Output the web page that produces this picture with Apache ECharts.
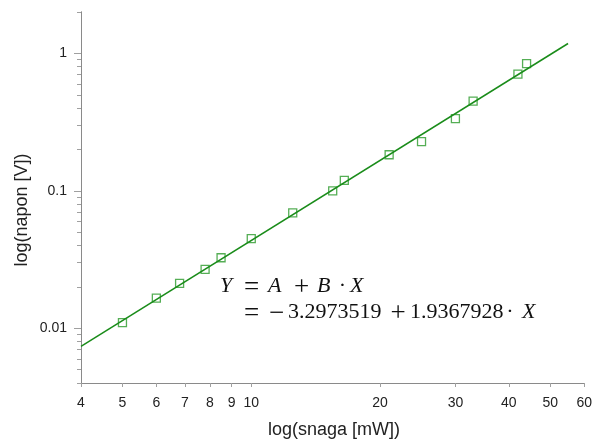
<!DOCTYPE html>
<html><head><meta charset="utf-8">
<script src="https://cdn.jsdelivr.net/npm/echarts@6/dist/echarts.min.js"></script>
<style>html,body{margin:0;padding:0;background:#fff}#c{width:595px;height:440px}</style>
</head><body><div id="c"></div>
<script>
const snaga = [5, 6, 6.8, 7.8, 8.5, 10, 12.5, 15.5, 16.5, 21, 25, 30, 33, 42, 44];
const napon = [0.0110, 0.0166, 0.0212, 0.0268, 0.0326, 0.0449, 0.0691, 0.100, 0.119, 0.183, 0.228, 0.335, 0.449, 0.706, 0.841];
const fitX = [4, 55];
const fitY = [0.00740, 1.18];
const xTicks = [4, 5, 6, 7, 8, 9, 10, 20, 30, 40, 50, 60];
const yMajor = [0.01, 0.1, 1];
const yMinor = [0.004, 0.005, 0.006, 0.007, 0.008, 0.009, 0.02, 0.03, 0.04, 0.05, 0.06, 0.07, 0.08, 0.09, 0.2, 0.3, 0.4, 0.5, 0.6, 0.7, 0.8, 0.9, 2];

const AX = '#8a8a8a', TK = '#a0a0a0', LB = '#222';
const SANS = 'Liberation Sans, Arial, sans-serif';
const SERIF = 'Liberation Serif, Times New Roman, serif';

const chart = echarts.init(document.getElementById('c'), null, {renderer: 'canvas'});

function t(x, y, s, italic, align) {
  return {type: 'text', x: x, y: y, style: {text: s, font: (italic ? 'italic ' : '') + '22px ' + SERIF, fill: '#111', align: align || 'left', verticalAlign: 'middle'}};
}
function op(x, y, s) {
  return {type: 'text', x: x, y: y + 2, style: {text: s, font: '27px ' + SERIF, fill: '#111', align: 'center', verticalAlign: 'middle'}};
}
const L1 = 286, L2 = 312;

chart.setOption({
  animation: false,
  backgroundColor: '#fff',
  grid: {left: 81, right: 8, top: 12, bottom: 57},
  xAxis: {
    type: 'log', logBase: 10, min: 4, max: 60,
    axisLine: {lineStyle: {color: AX, width: 1}},
    axisTick: {customValues: xTicks, length: 4, lineStyle: {color: TK}},
    axisLabel: {customValues: xTicks, color: LB, fontSize: 14, fontFamily: SANS, margin: 13},
    splitLine: {show: false}, minorTick: {show: false}
  },
  yAxis: [{
    type: 'log', logBase: 10, min: 0.004, max: 2,
    axisLine: {lineStyle: {color: AX, width: 1}},
    axisTick: {customValues: yMajor, length: 7, lineStyle: {color: TK}},
    axisLabel: {customValues: yMajor, color: LB, fontSize: 14, fontFamily: SANS, margin: 14},
    splitLine: {show: false}
  }, {
    type: 'log', logBase: 10, min: 0.004, max: 2, position: 'left',
    axisLine: {show: true, lineStyle: {color: AX, width: 1}},
    axisTick: {customValues: yMinor, length: 4, lineStyle: {color: TK}},
    axisLabel: {show: false},
    splitLine: {show: false}
  }],
  series: [{
    type: 'scatter', yAxisIndex: 0,
    data: snaga.map((v, i) => [v, napon[i]]),
    symbol: 'rect', symbolSize: 8,
    itemStyle: {color: 'rgba(0,0,0,0)', borderColor: '#2a9a2a', borderWidth: 1.3},
    z: 2
  }, {
    type: 'line', yAxisIndex: 0,
    data: fitX.map((v, i) => [v, fitY[i]]),
    showSymbol: false, symbol: 'none',
    lineStyle: {color: '#1a8c1a', width: 1.5},
    z: 3
  }],
  graphic: [
    {type: 'text', x: 334, y: 430, style: {text: 'log(snaga [mW])', font: '18px ' + SANS, fill: LB, align: 'center', verticalAlign: 'middle'}},
    {type: 'text', x: 22, y: 210, rotation: Math.PI / 2, style: {text: 'log(napon [V])', font: '18px ' + SANS, fill: LB, align: 'center', verticalAlign: 'middle'}},
    t(220, L1, 'Y', true), op(251.5, L1, '='), t(268, L1, 'A', true),
    op(301.5, L1, '+'), t(317, L1, 'B', true), t(342.5, L1, '·', false, 'center'), t(350, L1, 'X', true),
    op(251.5, L2, '='), op(276.5, L2, '−'), t(288, L2, '3.2973519', false),
    op(398, L2, '+'), t(410, L2, '1.9367928', false), t(510, L2, '·', false, 'center'), t(522, L2, 'X', true)
  ]
});
</script></body></html>
